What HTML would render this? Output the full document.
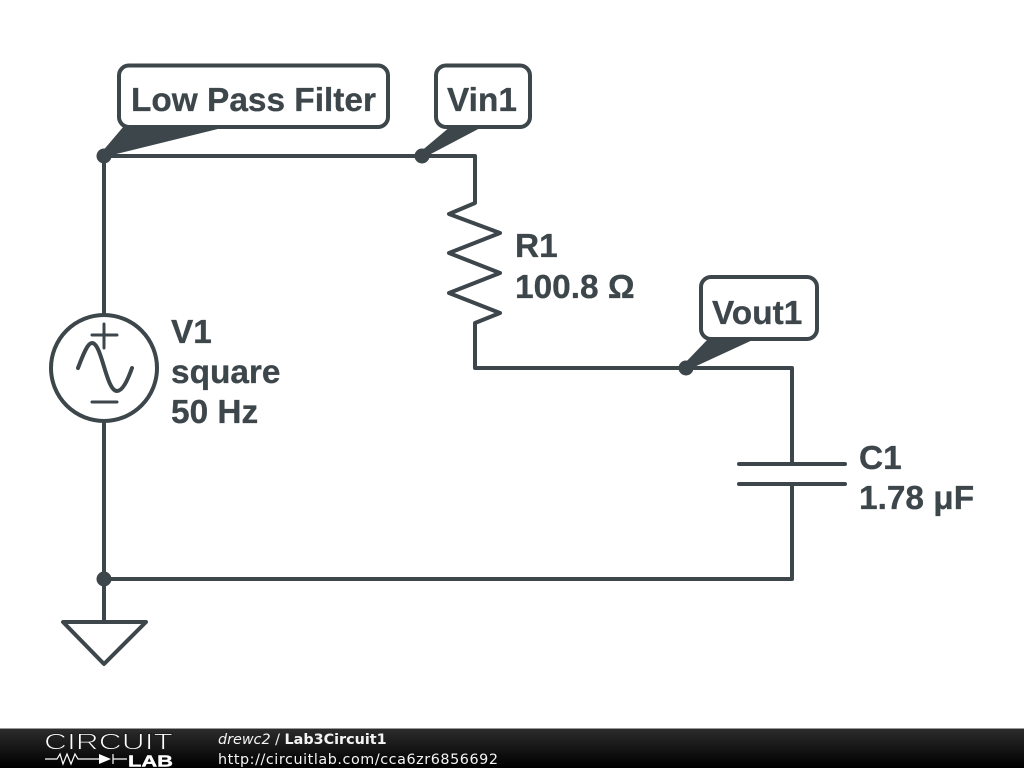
<!DOCTYPE html>
<html>
<head>
<meta charset="utf-8">
<style>
html,body{margin:0;padding:0;background:#fff;width:1024px;height:768px;overflow:hidden}
svg{display:block}
.t{font-family:"Liberation Sans",sans-serif;font-weight:700;font-size:33.4px;fill:#3d464b;stroke:#3d464b;stroke-width:0.3}
.f{font-family:"DejaVu Sans",sans-serif;font-size:14.35px;fill:#f4f4f4}
</style>
</head>
<body>
<svg width="1024" height="768" viewBox="0 0 1024 768" xmlns="http://www.w3.org/2000/svg">
<defs>
<linearGradient id="g" x1="0" y1="0" x2="0" y2="1">
<stop offset="0" stop-color="#2c2c2c"/><stop offset="0.5" stop-color="#151515"/><stop offset="1" stop-color="#000"/>
</linearGradient>
</defs>
<rect width="1024" height="768" fill="#fff"/>
<g fill="none" stroke="#3d464b" stroke-width="4" stroke-linecap="round" stroke-linejoin="round">
<!-- wires -->
<path d="M104 313V156H475V203L449 214L500 233L449 253L500 273L449 293L500 313L475 323V368H792V464"/>
<path d="M792 484V579H104V622"/>
<path d="M104 421V579" />
<!-- source -->
<circle cx="104" cy="368" r="53"/>
<path d="M92 335H117M104 324V348M92 402H117" stroke-width="3"/>
<path d="M78 368C84 352 88 343 92 343C102 343 106 391 117 391C122 391 127 382 132 368"/>
<!-- capacitor -->
<path d="M739 464H845M739 484H845"/>
<!-- ground -->
<path d="M63 622H146L104 664Z"/>
<!-- flag boxes -->
<rect x="119" y="65.500" width="269" height="61.500" rx="10" fill="#fff"/>
<rect x="436" y="65.500" width="94" height="61.500" rx="10" fill="#fff"/>
<rect x="701" y="277" width="116" height="62" rx="10" fill="#fff"/>
</g>
<g fill="#3d464b">
<path d="M101 153L124 126H230L108 156Z"/>
<path d="M419 153L451 126H484L427 156Z"/>
<path d="M683 365L709 338H757L692 368Z"/>
<circle cx="104" cy="156" r="7.500"/>
<circle cx="422" cy="156" r="7.500"/>
<circle cx="686" cy="368" r="7.500"/>
<circle cx="104" cy="579" r="7.500"/>
</g>
<text class="t" x="131" y="111">Low Pass Filter</text>
<text class="t" x="447" y="111">Vin1</text>
<text class="t" x="712" y="324">Vout1</text>
<text class="t" x="515" y="257">R1</text>
<text class="t" x="515" y="298">100.8 Ω</text>
<text class="t" x="171" y="343">V1</text>
<text class="t" x="171" y="383">square</text>
<text class="t" x="171" y="423">50 Hz</text>
<text class="t" x="859" y="469">C1</text>
<text class="t" x="859" y="509">1.78 μF</text>
<!-- footer -->
<rect x="0" y="729" width="1024" height="39" fill="url(#g)"/>
<rect x="0" y="728" width="1024" height="1" fill="#999"/>
<text x="44" y="749.500" font-family="Liberation Sans,sans-serif" font-size="23" fill="#fff" stroke="#1c1c1c" stroke-width="0.9" textLength="129" lengthAdjust="spacingAndGlyphs">CIRCUIT</text>
<path d="M45 759H57L60 754L63 764L67 754L71 764L75 754L78 759H99M127 759H113M113 754V764" fill="none" stroke="#fff" stroke-width="1.200"/>
<path d="M99 754L111 759L99 764Z" fill="#fff"/>
<text x="128" y="766.500" font-family="Liberation Sans,sans-serif" font-size="16" font-weight="700" fill="#fff" stroke="#fff" stroke-width="0.4" textLength="45" lengthAdjust="spacingAndGlyphs">LAB</text>
<text class="f" x="218" y="744"><tspan font-style="italic">drewc2</tspan> / <tspan font-weight="700">Lab3Circuit1</tspan></text>
<text class="f" x="218" y="764" textLength="280">http://circuitlab.com/cca6zr6856692</text>
</svg>
</body>
</html>
